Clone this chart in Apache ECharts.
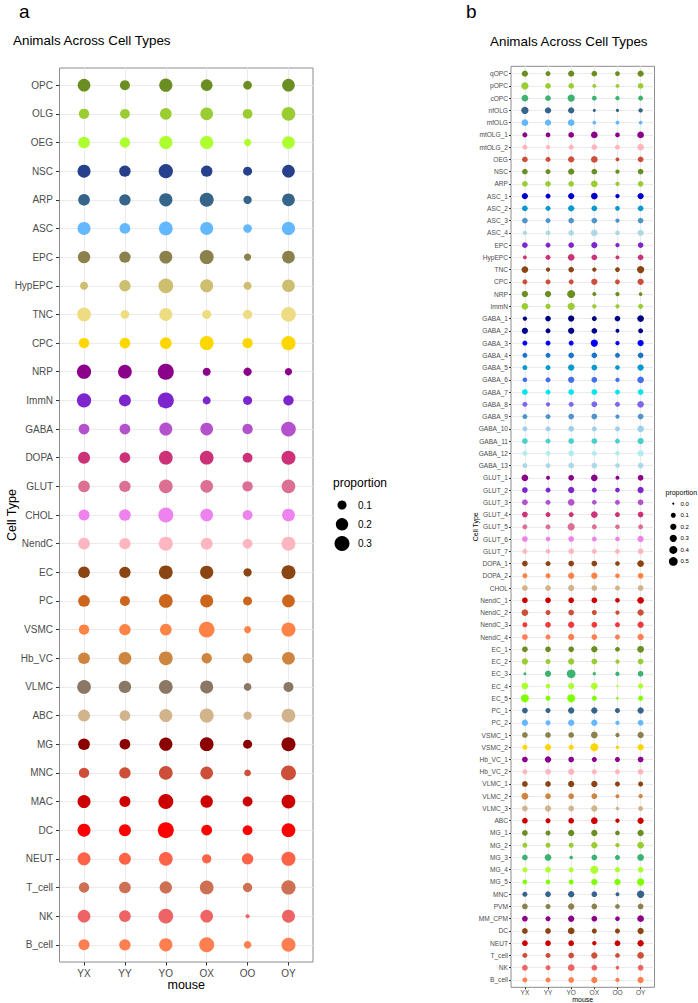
<!DOCTYPE html>
<html>
<head>
<meta charset="utf-8">
<script src="https://cdn.jsdelivr.net/npm/echarts@6/dist/echarts.min.js"></script>
<style>
html, body { margin: 0; padding: 0; background: #fff; }
#chart { width: 698px; height: 1003px; }
</style>
</head>
<body>
<div id="chart"></div>
<script>
// mice on the x axis (both panels)
var mice = ['YX', 'YY', 'YO', 'OX', 'OO', 'OY'];

// panel a: broad cell types
var typesA = ['OPC', 'OLG', 'OEG', 'NSC', 'ARP', 'ASC', 'EPC', 'HypEPC', 'TNC', 'CPC', 'NRP', 'ImmN',
  'GABA', 'DOPA', 'GLUT', 'CHOL', 'NendC', 'EC', 'PC', 'VSMC', 'Hb_VC', 'VLMC', 'ABC', 'MG', 'MNC',
  'MAC', 'DC', 'NEUT', 'T_cell', 'NK', 'B_cell'];
var colorsA = ['#6B8E23', '#9ACD32', '#ADFF2F', '#27408B', '#36648B', '#63B8FF', '#8B814C', '#CDBE70',
  '#EEDC82', '#FFD700', '#8B008B', '#7D26CD', '#B452CD', '#CD3278', '#DB7093', '#EE82EE', '#FFB6C1',
  '#8B4513', '#CD661D', '#FF8247', '#CD853F', '#8B7765', '#D2B48C', '#8B0000', '#CD4F39', '#CD0000',
  '#FF0000', '#FF6347', '#CD7054', '#EE6363', '#FF7F50'];
// proportion per cell type, columns in the order of mice
var propA = [
  [0.21, 0.125, 0.23, 0.176, 0.09, 0.21],
  [0.135, 0.12, 0.176, 0.21, 0.12, 0.25],
  [0.176, 0.135, 0.23, 0.23, 0.06, 0.21],
  [0.22, 0.165, 0.27, 0.165, 0.098, 0.21],
  [0.176, 0.165, 0.23, 0.26, 0.082, 0.21],
  [0.22, 0.145, 0.25, 0.22, 0.09, 0.23],
  [0.2, 0.165, 0.22, 0.26, 0.06, 0.21],
  [0.075, 0.165, 0.29, 0.22, 0.075, 0.21],
  [0.25, 0.09, 0.22, 0.098, 0.105, 0.29],
  [0.135, 0.145, 0.176, 0.26, 0.135, 0.27],
  [0.27, 0.25, 0.346, 0.075, 0.082, 0.06],
  [0.27, 0.186, 0.346, 0.075, 0.098, 0.135],
  [0.145, 0.145, 0.22, 0.21, 0.135, 0.29],
  [0.186, 0.145, 0.25, 0.25, 0.12, 0.26],
  [0.176, 0.165, 0.25, 0.21, 0.135, 0.25],
  [0.154, 0.176, 0.3, 0.21, 0.12, 0.21],
  [0.176, 0.165, 0.26, 0.186, 0.12, 0.26],
  [0.176, 0.165, 0.25, 0.23, 0.082, 0.26],
  [0.176, 0.125, 0.25, 0.22, 0.098, 0.21],
  [0.135, 0.165, 0.176, 0.33, 0.055, 0.26],
  [0.176, 0.21, 0.25, 0.135, 0.12, 0.21],
  [0.25, 0.2, 0.25, 0.22, 0.068, 0.125],
  [0.186, 0.145, 0.22, 0.26, 0.082, 0.25],
  [0.176, 0.145, 0.23, 0.25, 0.098, 0.26],
  [0.135, 0.165, 0.25, 0.21, 0.05, 0.3],
  [0.22, 0.154, 0.3, 0.2, 0.12, 0.25],
  [0.22, 0.186, 0.346, 0.145, 0.12, 0.25],
  [0.22, 0.186, 0.25, 0.105, 0.165, 0.26],
  [0.135, 0.176, 0.2, 0.25, 0.105, 0.27],
  [0.21, 0.176, 0.29, 0.21, 0.014, 0.22],
  [0.154, 0.165, 0.23, 0.3, 0.068, 0.26]
];
var legendA = [0.1, 0.2, 0.3];

// panel b: sub types
var typesB = ['qOPC', 'pOPC', 'cOPC', 'nfOLG', 'mfOLG', 'mtOLG_1', 'mtOLG_2', 'OEG', 'NSC', 'ARP',
  'ASC_1', 'ASC_2', 'ASC_3', 'ASC_4', 'EPC', 'HypEPC', 'TNC', 'CPC', 'NRP', 'ImmN',
  'GABA_1', 'GABA_2', 'GABA_3', 'GABA_4', 'GABA_5', 'GABA_6', 'GABA_7', 'GABA_8', 'GABA_9',
  'GABA_10', 'GABA_11', 'GABA_12', 'GABA_13', 'GLUT_1', 'GLUT_2', 'GLUT_3', 'GLUT_4', 'GLUT_5',
  'GLUT_6', 'GLUT_7', 'DOPA_1', 'DOPA_2', 'CHOL', 'NendC_1', 'NendC_2', 'NendC_3', 'NendC_4',
  'EC_1', 'EC_2', 'EC_3', 'EC_4', 'EC_5', 'PC_1', 'PC_2', 'VSMC_1', 'VSMC_2', 'Hb_VC_1', 'Hb_VC_2',
  'VLMC_1', 'VLMC_2', 'VLMC_3', 'ABC', 'MG_1', 'MG_2', 'MG_3', 'MG_4', 'MG_5', 'MNC', 'PVM',
  'MM_CPM', 'DC', 'NEUT', 'T_cell', 'NK', 'B_cell'];
var colorsB = ['#6B8E23', '#9ACD32', '#3CB371', '#36648B', '#63B8FF', '#8B008B', '#FFB6C1', '#CD4F39',
  '#6B8E23', '#9ACD32', '#0000CD', '#009ACD', '#4F94CD', '#ADD8E6', '#7D26CD', '#CD3278', '#8B4513',
  '#CD4F39', '#6B8E23', '#9ACD32',
  '#000080', '#00008B', '#0000FF', '#1874CD', '#009ACD', '#436EEE', '#00E5EE', '#7B68EE', '#4F94CD',
  '#9FD0EA', '#48D1CC', '#AEEEEE', '#ADD8E6',
  '#8B008B', '#7D26CD', '#B452CD', '#CD3278', '#DB7093', '#EE82EE', '#FFB6C1',
  '#8B4513', '#FF8247', '#D2B48C', '#CD0000', '#CD4F39', '#EE3B3B', '#FF7F50',
  '#6B8E23', '#9ACD32', '#3CB371', '#ADFF2F', '#7FFF00', '#36648B', '#63B8FF', '#8B814C', '#FFD700',
  '#8B008B', '#FFB6C1', '#8B4513', '#CD853F', '#D2B48C', '#CD0000',
  '#6B8E23', '#9ACD32', '#3CB371', '#ADFF2F', '#7FFF00', '#36648B', '#8B814C', '#8B008B', '#8B4513',
  '#CD0000', '#CD4F39', '#EE6363', '#FF7F50'];
var propB = [
  [0.2, 0.1, 0.2, 0.15, 0.08, 0.2],
  [0.31, 0.15, 0.15, 0.044, 0.044, 0.15],
  [0.245, 0.15, 0.31, 0.08, 0.06, 0.1],
  [0.31, 0.205, 0.205, 0.011, 0.019, 0.06],
  [0.245, 0.205, 0.245, 0.032, 0.044, 0.032],
  [0.1, 0.08, 0.15, 0.245, 0.08, 0.245],
  [0.1, 0.06, 0.1, 0.15, 0.1, 0.245],
  [0.15, 0.1, 0.205, 0.245, 0.044, 0.15],
  [0.15, 0.1, 0.205, 0.15, 0.06, 0.15],
  [0.15, 0.15, 0.15, 0.245, 0.06, 0.15],
  [0.205, 0.1, 0.205, 0.245, 0.06, 0.205],
  [0.15, 0.1, 0.205, 0.15, 0.08, 0.15],
  [0.15, 0.1, 0.15, 0.15, 0.06, 0.15],
  [0.06, 0.08, 0.15, 0.245, 0.08, 0.205],
  [0.15, 0.1, 0.15, 0.205, 0.06, 0.15],
  [0.044, 0.1, 0.245, 0.15, 0.044, 0.15],
  [0.245, 0.06, 0.15, 0.06, 0.08, 0.31],
  [0.1, 0.1, 0.1, 0.205, 0.1, 0.205],
  [0.205, 0.205, 0.4, 0.044, 0.06, 0.032],
  [0.245, 0.12, 0.31, 0.06, 0.06, 0.1],
  [0.06, 0.15, 0.205, 0.1, 0.15, 0.245],
  [0.205, 0.1, 0.205, 0.15, 0.044, 0.1],
  [0.1, 0.1, 0.1, 0.31, 0.06, 0.205],
  [0.1, 0.1, 0.15, 0.15, 0.1, 0.15],
  [0.1, 0.1, 0.205, 0.15, 0.08, 0.205],
  [0.08, 0.1, 0.205, 0.15, 0.06, 0.245],
  [0.15, 0.1, 0.15, 0.15, 0.1, 0.15],
  [0.1, 0.06, 0.1, 0.15, 0.1, 0.245],
  [0.1, 0.1, 0.15, 0.15, 0.06, 0.15],
  [0.1, 0.1, 0.15, 0.1, 0.1, 0.245],
  [0.15, 0.1, 0.15, 0.15, 0.1, 0.205],
  [0.1, 0.08, 0.15, 0.1, 0.08, 0.205],
  [0.1, 0.1, 0.15, 0.15, 0.08, 0.15],
  [0.245, 0.044, 0.15, 0.245, 0.044, 0.15],
  [0.15, 0.1, 0.205, 0.1, 0.08, 0.205],
  [0.15, 0.1, 0.245, 0.08, 0.1, 0.15],
  [0.15, 0.1, 0.1, 0.245, 0.1, 0.15],
  [0.1, 0.1, 0.31, 0.1, 0.08, 0.1],
  [0.15, 0.08, 0.15, 0.1, 0.08, 0.205],
  [0.1, 0.08, 0.15, 0.1, 0.1, 0.15],
  [0.15, 0.1, 0.15, 0.15, 0.08, 0.245],
  [0.1, 0.1, 0.205, 0.205, 0.08, 0.15],
  [0.15, 0.15, 0.205, 0.15, 0.1, 0.15],
  [0.15, 0.15, 0.15, 0.15, 0.08, 0.245],
  [0.245, 0.1, 0.15, 0.1, 0.06, 0.205],
  [0.1, 0.15, 0.205, 0.15, 0.1, 0.205],
  [0.15, 0.1, 0.205, 0.15, 0.1, 0.205],
  [0.15, 0.15, 0.15, 0.205, 0.08, 0.245],
  [0.205, 0.1, 0.205, 0.15, 0.06, 0.15],
  [0.011, 0.205, 0.5, 0.019, 0.06, 0.15],
  [0.245, 0.08, 0.205, 0.245, 0.002, 0.12],
  [0.4, 0.1, 0.4, 0.1, 0.005, 0.1],
  [0.15, 0.1, 0.205, 0.205, 0.1, 0.205],
  [0.205, 0.1, 0.205, 0.205, 0.06, 0.15],
  [0.15, 0.15, 0.15, 0.245, 0.06, 0.205],
  [0.1, 0.205, 0.1, 0.4, 0.032, 0.205],
  [0.15, 0.205, 0.15, 0.1, 0.1, 0.15],
  [0.1, 0.15, 0.205, 0.1, 0.1, 0.15],
  [0.15, 0.15, 0.205, 0.205, 0.1, 0.1],
  [0.245, 0.15, 0.15, 0.15, 0.044, 0.06],
  [0.15, 0.205, 0.15, 0.205, 0.032, 0.1],
  [0.15, 0.1, 0.15, 0.245, 0.06, 0.205],
  [0.15, 0.1, 0.205, 0.205, 0.08, 0.205],
  [0.1, 0.1, 0.1, 0.205, 0.06, 0.245],
  [0.15, 0.245, 0.032, 0.15, 0.1, 0.245],
  [0.1, 0.15, 0.1, 0.4, 0.12, 0.15],
  [0.08, 0.08, 0.1, 0.205, 0.205, 0.31],
  [0.1, 0.15, 0.205, 0.15, 0.044, 0.31],
  [0.15, 0.1, 0.205, 0.15, 0.08, 0.15],
  [0.15, 0.1, 0.205, 0.15, 0.08, 0.245],
  [0.15, 0.15, 0.245, 0.1, 0.1, 0.205],
  [0.15, 0.15, 0.15, 0.06, 0.15, 0.205],
  [0.1, 0.1, 0.15, 0.205, 0.08, 0.245],
  [0.15, 0.1, 0.245, 0.15, 0.032, 0.15],
  [0.1, 0.1, 0.15, 0.205, 0.06, 0.205]
];
var legendB = [0.0, 0.1, 0.2, 0.3, 0.4, 0.5];

// dot diameter from proportion (area-like scale, like ggplot scale_size)
function sizeA(v) { return 1 + 25.5 * Math.sqrt(v); }
function sizeB(v) { return 2 + 9.5 * Math.sqrt(v); }

function toPoints(prop) {
  var out = [];
  for (var i = 0; i < prop.length; i++) {
    for (var j = 0; j < prop[i].length; j++) {
      out.push([j, i, prop[i][j]]);
    }
  }
  return out;
}
function range(n) {
  var r = [];
  for (var i = 0; i < n; i++) r.push(i);
  return r;
}

var labelGray = '#4D4D4D';
var gridLine = '#EBEBEB';
var frame = '#8C8C8C';

function xAxisFor(idx, fs, margin, tick, nameSize, nameGap) {
  return {
    type: 'value', gridIndex: idx, min: -0.6, max: 5.6,
    axisLine: { show: false, onZero: false },
    axisTick: { show: true, customValues: range(6), length: tick, lineStyle: { color: '#333', width: 1 } },
    axisLabel: { customValues: range(6), formatter: function (v) { return mice[Math.round(v)]; },
      color: labelGray, fontSize: fs, margin: margin, fontFamily: 'Liberation Sans' },
    splitLine: { show: true, lineStyle: { color: gridLine, width: 1 } },
    name: 'mouse', nameLocation: 'middle', nameGap: nameGap, nameMoveOverlap: false,
    nameTextStyle: { color: '#000', fontSize: nameSize, fontFamily: 'Liberation Sans' }
  };
}
function yAxisFor(idx, types, fs, margin, tick, nameSize, nameGap) {
  return {
    type: 'value', gridIndex: idx, inverse: true, min: -0.6, max: types.length - 0.4,
    axisLine: { show: false, onZero: false },
    axisTick: { show: true, customValues: range(types.length), length: tick, lineStyle: { color: '#333', width: 1 } },
    axisLabel: { customValues: range(types.length), formatter: function (v) { return types[Math.round(v)]; },
      color: labelGray, fontSize: fs, margin: margin, fontFamily: 'Liberation Sans' },
    splitLine: { show: true, lineStyle: { color: gridLine, width: 1 } },
    name: 'Cell Type', nameLocation: 'middle', nameGap: nameGap, nameRotate: 90, nameMoveOverlap: false,
    nameTextStyle: { color: '#000', fontSize: nameSize, fontFamily: 'Liberation Sans' }
  };
}

var graphics = [];
function addText(x, y, text, size, align, color) {
  graphics.push({
    type: 'text', x: x, y: y, silent: true,
    style: { text: text, fontSize: size, fontFamily: 'Liberation Sans', fill: color || '#000',
      textAlign: align || 'left', textVerticalAlign: 'middle' }
  });
}
// panel letters and titles
addText(19, 11, 'a', 19);
addText(466, 11, 'b', 19);
addText(13, 40, 'Animals Across Cell Types', 13.4);
addText(490, 41, 'Animals Across Cell Types', 13.4);
// size legend panel a
addText(333, 483, 'proportion', 12);
for (var i = 0; i < legendA.length; i++) {
  var cy = 505 + i * 19.3;
  graphics.push({ type: 'circle', silent: true, shape: { cx: 342, cy: cy, r: sizeA(legendA[i]) / 2 }, style: { fill: '#000' } });
  addText(358, cy, legendA[i].toFixed(1), 10);
}
// size legend panel b
addText(665.5, 492, 'proportion', 7);
for (var k = 0; k < legendB.length; k++) {
  var cyb = 503.7 + k * 11.55;
  graphics.push({ type: 'circle', silent: true, shape: { cx: 673.3, cy: cyb, r: sizeB(legendB[k]) / 2 }, style: { fill: '#000' } });
  addText(680.5, cyb, legendB[k].toFixed(1), 6);
}

var chart = echarts.init(document.getElementById('chart'), null, { renderer: 'svg' });
chart.setOption({
  animation: false,
  backgroundColor: '#fff',
  grid: [
    { left: 59.5, top: 68, width: 253.5, height: 894, show: true, borderColor: frame, borderWidth: 1,
      containLabel: false, outerBoundsMode: 'none' },
    { left: 511, top: 66.3, width: 143.5, height: 921, show: true, borderColor: frame, borderWidth: 1,
      containLabel: false, outerBoundsMode: 'none' }
  ],
  xAxis: [
    xAxisFor(0, 10, 6, 3.5, 12.5, 16.5),
    xAxisFor(1, 6.5, 1.5, 2, 7, 8.4)
  ],
  yAxis: [
    yAxisFor(0, typesA, 10, 6.5, 3.5, 12.5, 41),
    yAxisFor(1, typesB, 6.6, 3, 2, 7, 32.5)
  ],
  series: [
    {
      type: 'scatter', xAxisIndex: 0, yAxisIndex: 0,
      data: toPoints(propA),
      symbolSize: function (d) { return sizeA(d[2]); },
      itemStyle: { opacity: 1, color: function (p) { return colorsA[p.data[1]]; } },
      emphasis: { disabled: true }
    },
    {
      type: 'scatter', xAxisIndex: 1, yAxisIndex: 1,
      data: toPoints(propB),
      symbolSize: function (d) { return sizeB(d[2]); },
      itemStyle: { opacity: 1, color: function (p) { return colorsB[p.data[1]]; } },
      emphasis: { disabled: true }
    }
  ],
  graphic: graphics
});
</script>
</body>
</html>
